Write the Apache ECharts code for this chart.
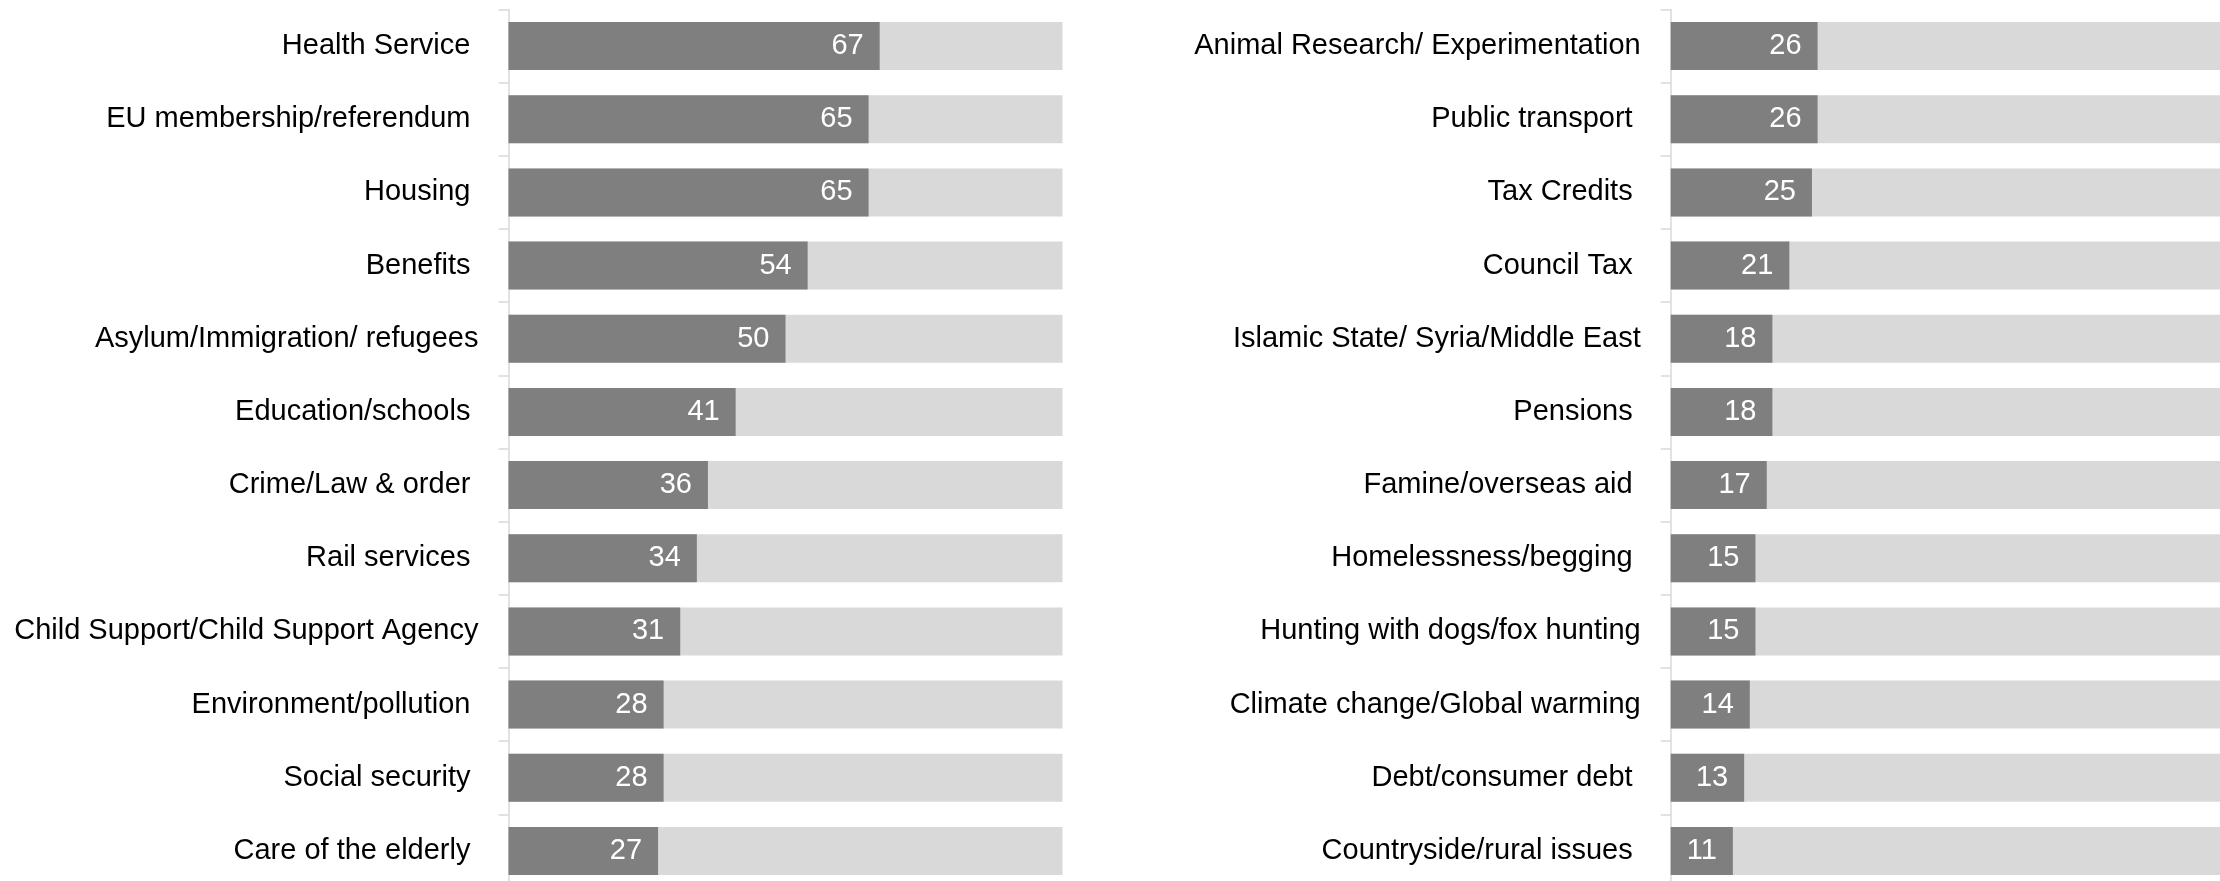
<!DOCTYPE html>
<html>
<head>
<meta charset="utf-8">
<title>Issues</title>
<script src="https://cdn.jsdelivr.net/npm/echarts@6/dist/echarts.min.js"></script>
<style>
  html, body { margin: 0; padding: 0; background: #fff; }
  #chart { width: 2220px; height: 881px; }
</style>
</head>
<body>
<div id="chart"></div>
<script>
// left panel
const leftIssues = [
  'Health Service ', 'EU membership/referendum ', 'Housing ', 'Benefits ',
  'Asylum/Immigration/ refugees', 'Education/schools ', 'Crime/Law & order ',
  'Rail services ', 'Child Support/Child Support Agency', 'Environment/pollution ',
  'Social security ', 'Care of the elderly '
]
const leftValues = [67, 65, 65, 54, 50, 41, 36, 34, 31, 28, 28, 27]

// right panel
const rightIssues = [
  'Animal Research/ Experimentation', 'Public transport ', 'Tax Credits ',
  'Council Tax ', 'Islamic State/ Syria/Middle East', 'Pensions ',
  'Famine/overseas aid ', 'Homelessness/begging ', 'Hunting with dogs/fox hunting',
  'Climate change/Global warming', 'Debt/consumer debt ', 'Countryside/rural issues '
]
const rightValues = [26, 26, 25, 21, 18, 18, 17, 15, 15, 14, 13, 11]

const font = "'Liberation Sans', Arial, sans-serif"

function yAxisFor(idx, names) {
  return {
    type: 'category',
    gridIndex: idx,
    inverse: true,
    data: names,
    axisLine: { show: true, lineStyle: { color: '#D9D9D9', width: 1.5 } },
    axisTick: { show: true, length: 10, lineStyle: { color: '#D9D9D9', width: 1.5 } },
    axisLabel: { color: '#000', fontSize: 29, fontFamily: font, margin: 30 },
    splitLine: { show: false }
  }
}

function xAxisFor(idx) {
  return {
    type: 'value',
    gridIndex: idx,
    min: 0,
    max: 100,
    show: false
  }
}

function seriesFor(idx, values) {
  return {
    type: 'bar',
    xAxisIndex: idx,
    yAxisIndex: idx,
    data: values,
    barWidth: 48,
    itemStyle: { color: '#7F7F7F' },
    showBackground: true,
    backgroundStyle: { color: '#D9D9D9' },
    label: {
      show: true,
      position: 'insideRight',
      distance: 16,
      color: '#fff',
      fontSize: 29,
      fontFamily: font
    }
  }
}

const chart = echarts.init(document.getElementById('chart'))
chart.setOption({
  animation: false,
  backgroundColor: '#fff',
  grid: [
    // the plot runs past the bottom and right edge, like the source image
    { left: 508.5, top: 9.5, width: 554, height: 878, outerBoundsMode: 'none' },
    { left: 1670.7, top: 9.5, width: 565, height: 878, outerBoundsMode: 'none' }
  ],
  xAxis: [xAxisFor(0), xAxisFor(1)],
  yAxis: [yAxisFor(0, leftIssues), yAxisFor(1, rightIssues)],
  series: [seriesFor(0, leftValues), seriesFor(1, rightValues)]
})
</script>
</body>
</html>
